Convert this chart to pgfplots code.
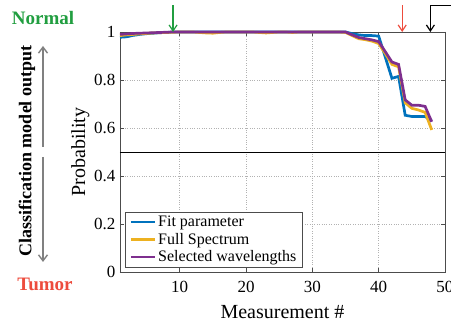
\documentclass[border=0pt]{standalone}
\usepackage{fontspec}
\setmainfont{Liberation Serif}
\usepackage{pgfplots}
\pgfplotsset{compat=1.18}
\usetikzlibrary{arrows.meta}
\definecolor{mblue}{rgb}{0,0.447,0.741}
\definecolor{morange}{rgb}{0.929,0.694,0.125}
\definecolor{mpurple}{rgb}{0.494,0.184,0.556}
\definecolor{ngreen}{rgb}{0.13,0.62,0.25}
\definecolor{tred}{rgb}{0.93,0.30,0.24}
\definecolor{axgray}{rgb}{0.3,0.3,0.3}
\pgfplotstableread{
x fit full sel
1 0.978 0.985 0.990
2 0.980 0.988 0.992
3 0.986 0.990 0.994
4 0.990 0.992 0.995
5 0.993 0.994 0.996
6 0.995 0.996 0.997
7 0.997 0.997 0.998
8 0.998 0.998 0.999
9 1.000 0.999 1.000
10 1.000 1.000 1.000
11 1.000 1.000 1.000
12 1.000 1.000 1.000
13 1.000 0.998 1.000
14 1.000 0.996 1.000
15 1.000 0.995 1.000
16 1.000 0.998 1.000
17 1.000 1.000 1.000
18 1.000 1.000 1.000
19 1.000 1.000 1.000
20 1.000 1.000 1.000
21 1.000 1.000 1.000
22 1.000 0.998 1.000
23 1.000 0.996 1.000
24 1.000 0.998 1.000
25 1.000 1.000 1.000
26 1.000 1.000 1.000
27 1.000 0.998 1.000
28 1.000 1.000 1.000
29 1.000 1.000 1.000
30 1.000 1.000 1.000
31 1.000 1.000 1.000
32 1.000 1.000 1.000
33 1.000 1.000 1.000
34 1.000 1.000 1.000
35 1.000 0.998 1.000
36 0.993 0.985 0.988
37 0.988 0.972 0.977
38 0.985 0.968 0.972
39 0.985 0.962 0.967
40 0.983 0.952 0.960
41 0.895 0.910 0.918
42 0.807 0.865 0.875
43 0.815 0.855 0.865
44 0.653 0.705 0.717
45 0.648 0.682 0.695
46 0.648 0.675 0.695
47 0.648 0.665 0.690
48 0.630 0.592 0.626
}\datatable
\newcommand{\tklab}{\fontsize{17}{17}\selectfont\rmfamily}
\begin{document}
\begin{tikzpicture}[x=1pt,y=1pt]
\path[use as bounding box, clip] (0,0) rectangle (451,324);
\begin{axis}[
  at={(120pt,52pt)}, anchor=south west,
  scale only axis, width=325pt, height=240pt,
  xmin=1, xmax=50, ymin=0, ymax=1,
  xtick={10,20,30,40,50}, ytick={0,0.2,0.4,0.6,0.8,1},
  xticklabel={\tklab\pgfmathprintnumber[assume math mode=true]{\tick}},
  yticklabel={\tklab\pgfmathprintnumber[assume math mode=true]{\tick}},
  tick align=inside, major tick length=4pt,
  tick style={axgray, line width=0.5pt},
  axis line style={axgray, line width=0.8pt},
  grid=major, grid style={dotted, gray!60, line width=0.5pt},
  tick label style={font=\tklab},
  xticklabel style={yshift=-6pt},
  yticklabel style={xshift=-1pt},
  xlabel={Measurement \#}, ylabel={Probability},
  label style={font=\fontsize{20}{20}\selectfont},
  xlabel style={yshift=-6pt},
  ylabel style={yshift=-2pt},
  clip=false,
  legend cell align=left,
  legend style={at={(0.016,0.02)}, anchor=south west,
    font=\fontsize{16}{16}\selectfont, draw=axgray, line width=0.6pt,
    inner xsep=4pt, inner ysep=1.5pt, row sep=1pt},
  legend image code/.code={\draw[line width=2.7pt] (0pt,0pt) -- (24pt,0pt);},
]
\draw[black, line width=0.9pt] (axis cs:1,0.5) -- (axis cs:50,0.5);
\addplot[mblue, line width=2.7pt] table[x=x,y=fit] {\datatable};
\addplot[morange, line width=2.7pt] table[x=x,y=full] {\datatable};
\addplot[mpurple, line width=2.7pt] table[x=x,y=sel] {\datatable};
\legend{Fit parameter, Full Spectrum, Selected wavelengths}
\draw[ngreen, line width=1.2pt, -{Straight Barb[length=6pt,width=8pt]}] (axis cs:9,1.112) -- (axis cs:9,1.0);
\draw[tred, line width=1.2pt, -{Straight Barb[length=6pt,width=8pt]}] (axis cs:43.55,1.112) -- (axis cs:43.55,1.0);
\draw[black, line width=1.2pt, -{Straight Barb[length=6pt,width=8pt]}] (axis cs:53,1.11) -- (axis cs:47.8,1.11) -- (axis cs:47.8,1.0);
\end{axis}
\node[font=\fontsize{19}{19}\selectfont\bfseries, text=ngreen] at (43,306) {Normal};
\node[font=\fontsize{19}{19}\selectfont\bfseries, text=tred] at (45,40) {Tumor};
\node[rotate=90, font=\fontsize{18}{18}\selectfont\bfseries] at (27,173) {Classification model output};
\draw[gray, line width=1.4pt, -{Straight Barb[length=6pt,width=9pt]}] (43,177) -- (43,278);
\draw[gray, line width=1.4pt, -{Straight Barb[length=6pt,width=9pt]}] (43,167) -- (43,62);
\end{tikzpicture}
\end{document}
